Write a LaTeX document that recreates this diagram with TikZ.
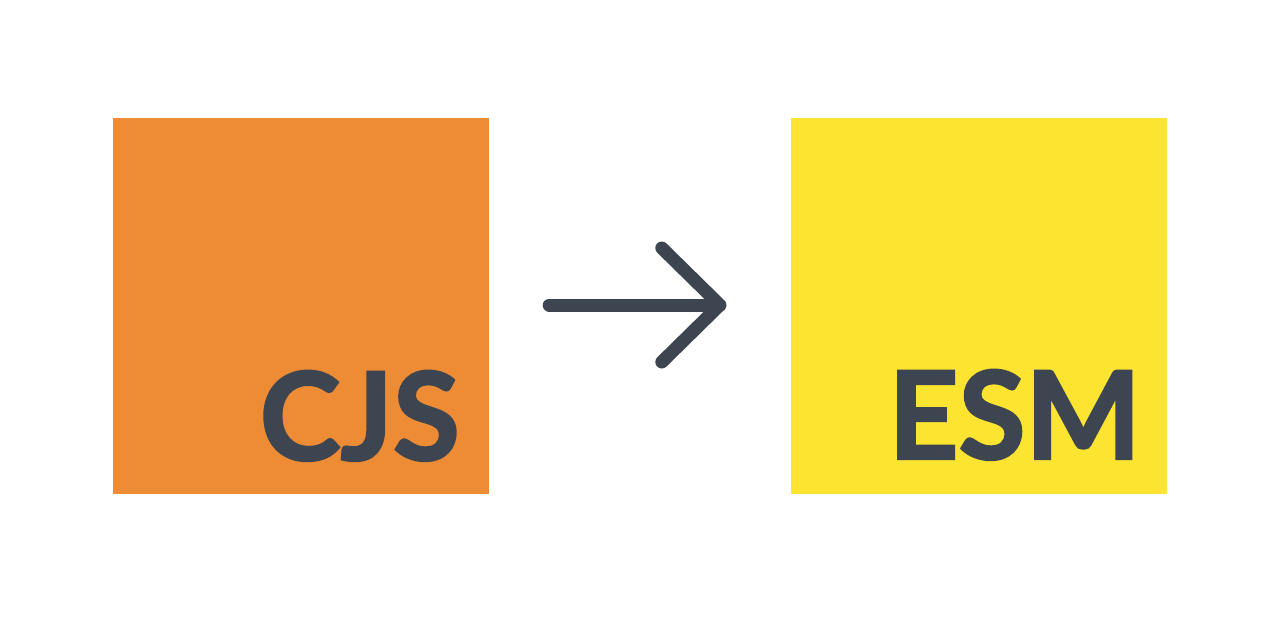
\documentclass[tikz,border=0pt]{standalone}
\usepackage{fontspec}
\newfontfamily\logofont[BoldFeatures={FakeBold=2}]{Lato}
\usetikzlibrary{calc}
\definecolor{cjsorange}{HTML}{EE8C35}
\definecolor{esmyellow}{HTML}{FDE430}
\definecolor{slate}{HTML}{3D4550}
\tikzset{
  tile/.style={rectangle, minimum size=376pt, inner sep=0pt, draw=none},
  tilelabel/.style={inner sep=0pt, text=slate, font=\logofont\bfseries\fontsize{122}{122}\selectfont},
  arrowline/.style={draw=slate, line width=13pt, line cap=round, line join=round}
}
\begin{document}
\begin{tikzpicture}[x=1pt, y=-1pt]
        \useasboundingbox (0,0) rectangle (1279,632);
        \node[tile, fill=cjsorange] (cjs) at (301,306) {};
        \node[tile, fill=esmyellow] (esm) at (979,306) {};
        \node[tilelabel, anchor=base east] (cjslabel) at (460,460) {CJS};
        \node[tilelabel, anchor=base east] (esmlabel) at (1141,459) {ESM};

        \coordinate (start) at ($(cjs.east)+(60,-1)$);
        \coordinate (tip) at ($(esm.west)+(-71,-1)$);
        \draw[arrowline] (start) -- (tip);
        \draw[arrowline] ($(tip)+(-58,-57)$) -- (tip) -- ($(tip)+(-58,57)$);
    \end{tikzpicture}
\end{document}
